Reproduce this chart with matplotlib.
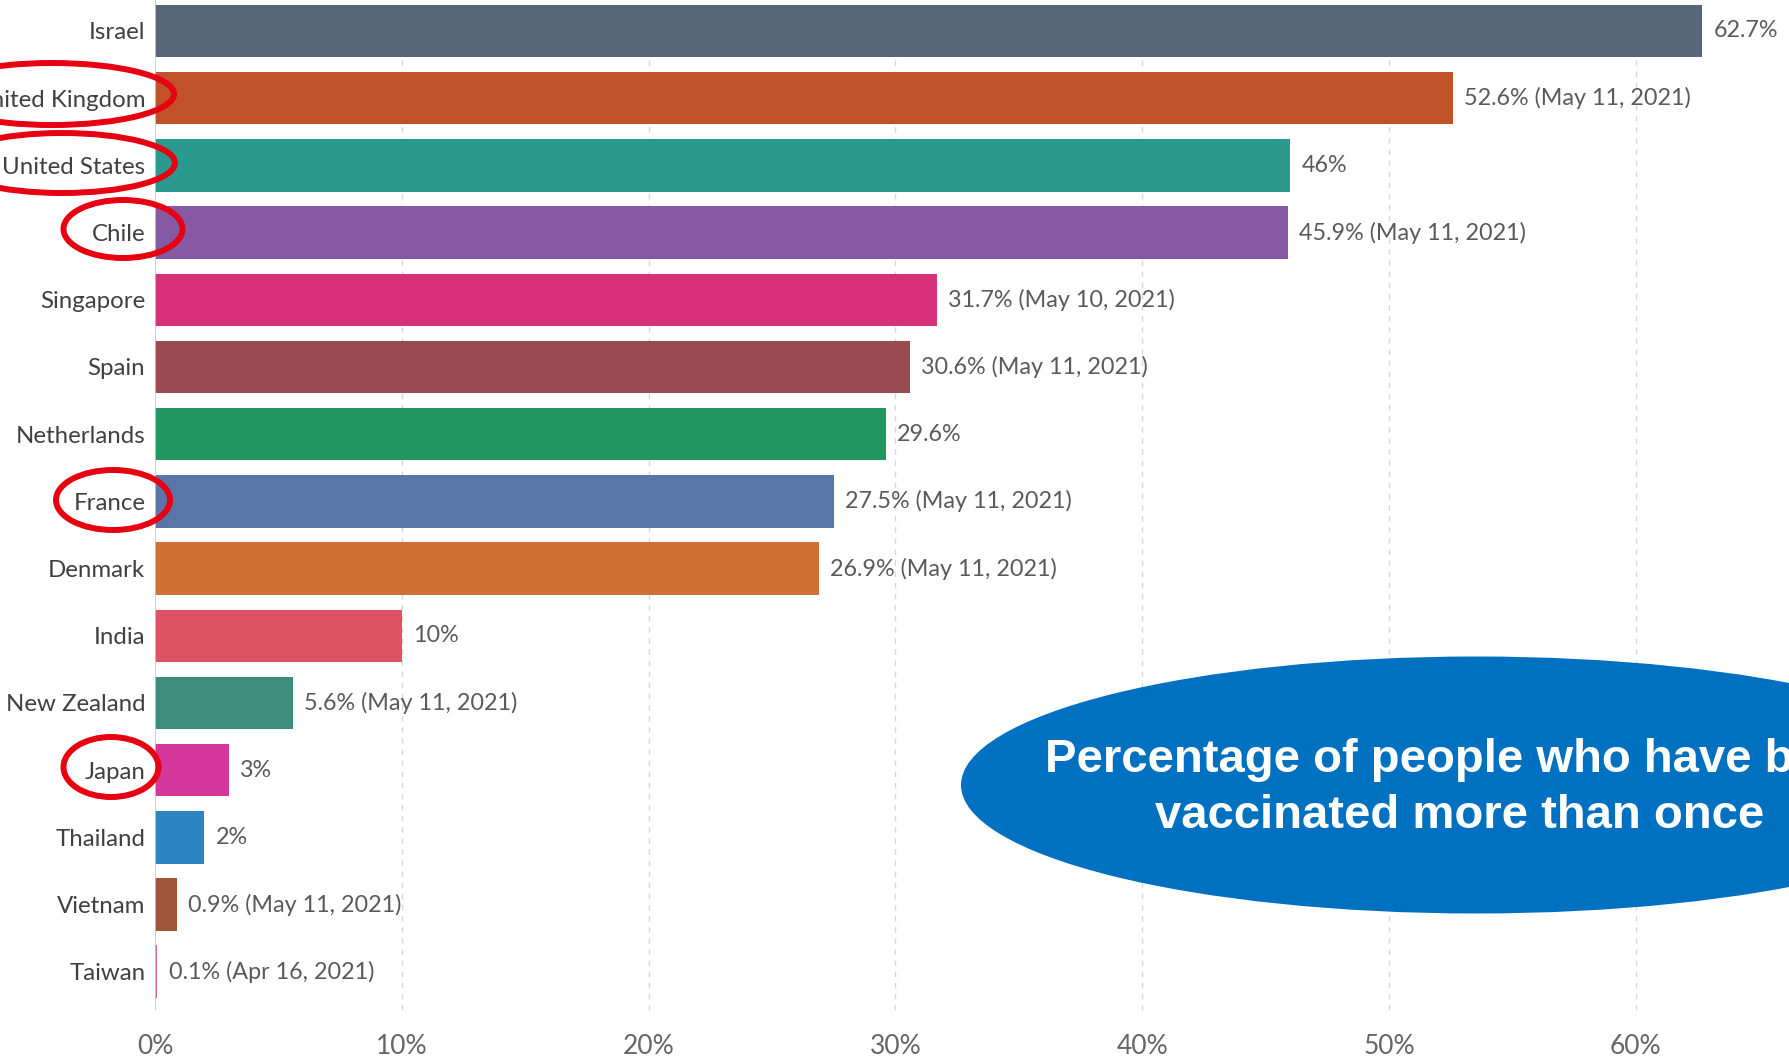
import matplotlib.pyplot as plt
from matplotlib.patches import Ellipse

countries = ['Israel', 'United Kingdom', 'United States', 'Chile', 'Singapore', 'Spain',
             'Netherlands', 'France', 'Denmark', 'India', 'New Zealand', 'Japan',
             'Thailand', 'Vietnam', 'Taiwan']
share = [62.7, 52.6, 46, 45.9, 31.7, 30.6, 29.6, 27.5, 26.9, 10, 5.6, 3, 2, 0.9, 0.1]
dates = ['', 'May 11, 2021', '', 'May 11, 2021', 'May 10, 2021', 'May 11, 2021', '',
         'May 11, 2021', 'May 11, 2021', '', 'May 11, 2021', '', '', 'May 11, 2021',
         'Apr 16, 2021']
colors = ['#586679', '#C15128', '#2A9A8E', '#8659A5', '#D8317A', '#9B4A52', '#21965F',
          '#5A76A8', '#CF7035', '#DE5465', '#3C8D7D', '#D6379C', '#2C84C0', '#A0563A',
          '#D06A99']
xticks = [0, 10, 20, 30, 40, 50, 60]
circled = ['United Kingdom', 'United States', 'Chile', 'France', 'Japan']

plt.rcParams['font.family'] = ['Lato', 'DejaVu Sans']

W, H = 1790, 1058
fig = plt.figure(figsize=(W / 100, H / 100), dpi=100)
fig.patch.set_facecolor('white')

# plot area in pixels: 0% at x=155, bottom at y=1010
ax = fig.add_axes([155 / W, 1 - 1010 / H, 1 - 155 / W, 1010 / H])
ypos = list(range(len(countries)))
ax.barh(ypos, share, height=0.78, color=colors, zorder=2)
ax.set_xlim(0, (W - 155) / 24.68)
ax.set_ylim(14.57, -0.461)

for y, v, d in zip(ypos, share, dates):
    txt = f'{v:g}%' + (f' ({d})' if d else '')
    ax.annotate(txt, (v, y), xytext=(8, 0), textcoords='offset points',
                va='center', ha='left', fontsize=16.8, color='#5a5a5a')

ax.set_yticks(ypos)
ax.set_yticklabels(countries, fontsize=17.3, color='#404040')
ax.set_xticks(xticks)
ax.set_xticklabels([f'{t}%' for t in xticks], fontsize=19, color='#666666')
ax.tick_params(axis='y', length=0, pad=7)
ax.tick_params(axis='x', length=0, pad=17)

for t in xticks[1:]:
    ax.axvline(t, color='#d8d8d8', lw=1, ls=(0, (4, 4)), zorder=1)
ax.axvline(0, color='#c8c8c8', lw=1.2, zorder=3)
for s in ax.spines.values():
    s.set_visible(False)

# overlay in pixel coordinates for the hand-drawn marks
ov = fig.add_axes([0, 0, 1, 1])
ov.set_xlim(0, W)
ov.set_ylim(H, 0)
ov.axis('off')
ov.patch.set_alpha(0)

rings = {'United Kingdom': (52, 94, 244, 62), 'United States': (62, 163, 226, 60),
         'Chile': (123, 229, 119, 58), 'France': (113, 500, 114, 60),
         'Japan': (111, 767, 95, 60)}
for name in circled:
    cx, cy, w, h = rings[name]
    ov.add_patch(Ellipse((cx, cy), w, h, fill=False, ec='#E60012', lw=4.3))

ov.add_patch(Ellipse((1476, 785), 1030, 257, fc='#0070C0', ec='none'))
ov.text(1460, 788, 'Percentage of people who have been\nvaccinated more than once',
        ha='center', va='center', multialignment='center', fontsize=34,
        fontweight='bold', color='white', linespacing=1.33,
        family=['Liberation Sans', 'DejaVu Sans'])

fig.savefig('out.png', dpi=100)
